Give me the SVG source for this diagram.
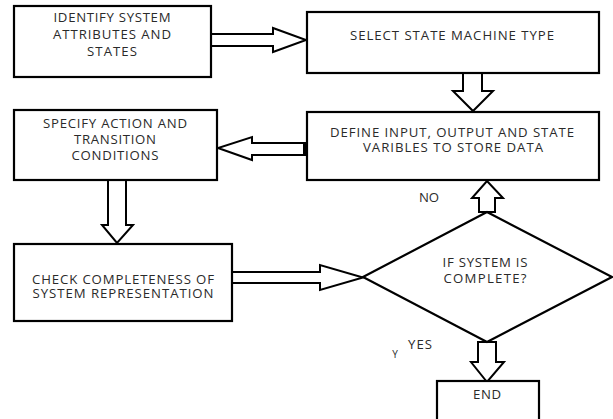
<svg xmlns="http://www.w3.org/2000/svg" width="613" height="419" viewBox="0 0 613 419">
<style>
.box{fill:#fff;stroke:#000;stroke-width:2.2}
.arr{fill:#fff;stroke:#000;stroke-width:2;stroke-linejoin:miter}
.t{font-family:"Open Sans","Liberation Sans",sans-serif;font-size:13.2px;fill:#2a2a2a;text-anchor:middle}
</style>
<rect width="613" height="419" fill="#fff"/>
<g id="connectors">
<polygon class="arr" points="211,34 273,34 273,28 306,40 273,52 273,46 211,46"/>
<polygon class="arr" points="463,73 482,73 482,91 493,91 473,111 453,91 463,91"/>
<polygon class="arr" points="307,143 252,143 252,137 218,148 252,160 252,155 307,155"/>
<rect x="303" y="143" width="4" height="12" fill="#000"/>
<polygon class="arr" points="108,180 126,180 126,225 133,225 117,243 102,225 108,225"/>
<polygon class="arr" points="232,272 320,272 320,265 363,277.5 320,290 320,283 232,283"/>
<polygon class="arr" points="479,212 479,198 472,198 487,181 503,198 495,198 495,212"/>
<polygon class="arr" points="478,342 496,342 496,362 504,362 487,382 471,362 478,362"/>
</g>
<g id="n1">
<rect class="box" x="14" y="6" width="197" height="71"/>
<text class="t" x="112" y="22" textLength="117">IDENTIFY SYSTEM</text>
<text class="t" x="112" y="39" textLength="118">ATTRIBUTES AND</text>
<text class="t" x="112" y="56" textLength="50">STATES</text>
</g>
<g id="n2">
<rect class="box" x="307" y="12" width="292" height="61"/>
<text class="t" x="452" y="40" textLength="204">SELECT STATE MACHINE TYPE</text>
</g>
<g id="n3">
<rect class="box" x="307" y="112" width="292" height="68"/>
<text class="t" x="452" y="137" textLength="244">DEFINE INPUT, OUTPUT AND STATE</text>
<text class="t" x="453" y="152" textLength="180">VARIBLES TO STORE DATA</text>
</g>
<g id="n4">
<rect class="box" x="14" y="110" width="203" height="70"/>
<text class="t" x="115" y="128" textLength="144">SPECIFY ACTION AND</text>
<text class="t" x="115" y="144" textLength="82">TRANSITION</text>
<text class="t" x="115" y="160" textLength="87">CONDITIONS</text>
</g>
<g id="n5">
<rect class="box" x="14" y="244" width="218" height="77"/>
<text class="t" x="123" y="284" textLength="182">CHECK COMPLETENESS OF</text>
<text class="t" x="123" y="298" textLength="181">SYSTEM REPRESENTATION</text>
</g>
<g id="n6">
<polygon class="box" points="363,277 487,212 612,277 487,342"/>
<text class="t" x="485" y="267" textLength="85">IF SYSTEM IS</text>
<text class="t" x="485" y="283" textLength="83">COMPLETE?</text>
</g>
<g id="n7">
<rect class="box" x="437" y="381" width="102" height="60"/>
<text class="t" x="487" y="399" textLength="28">END</text>
</g>
<g id="labels">
<text class="t" x="429" y="202" textLength="20">NO</text>
<text class="t" x="420" y="349" textLength="24">YES</text>
<text class="t" x="395" y="358" style="font-size:10px">Y</text>
</g>
</svg>
